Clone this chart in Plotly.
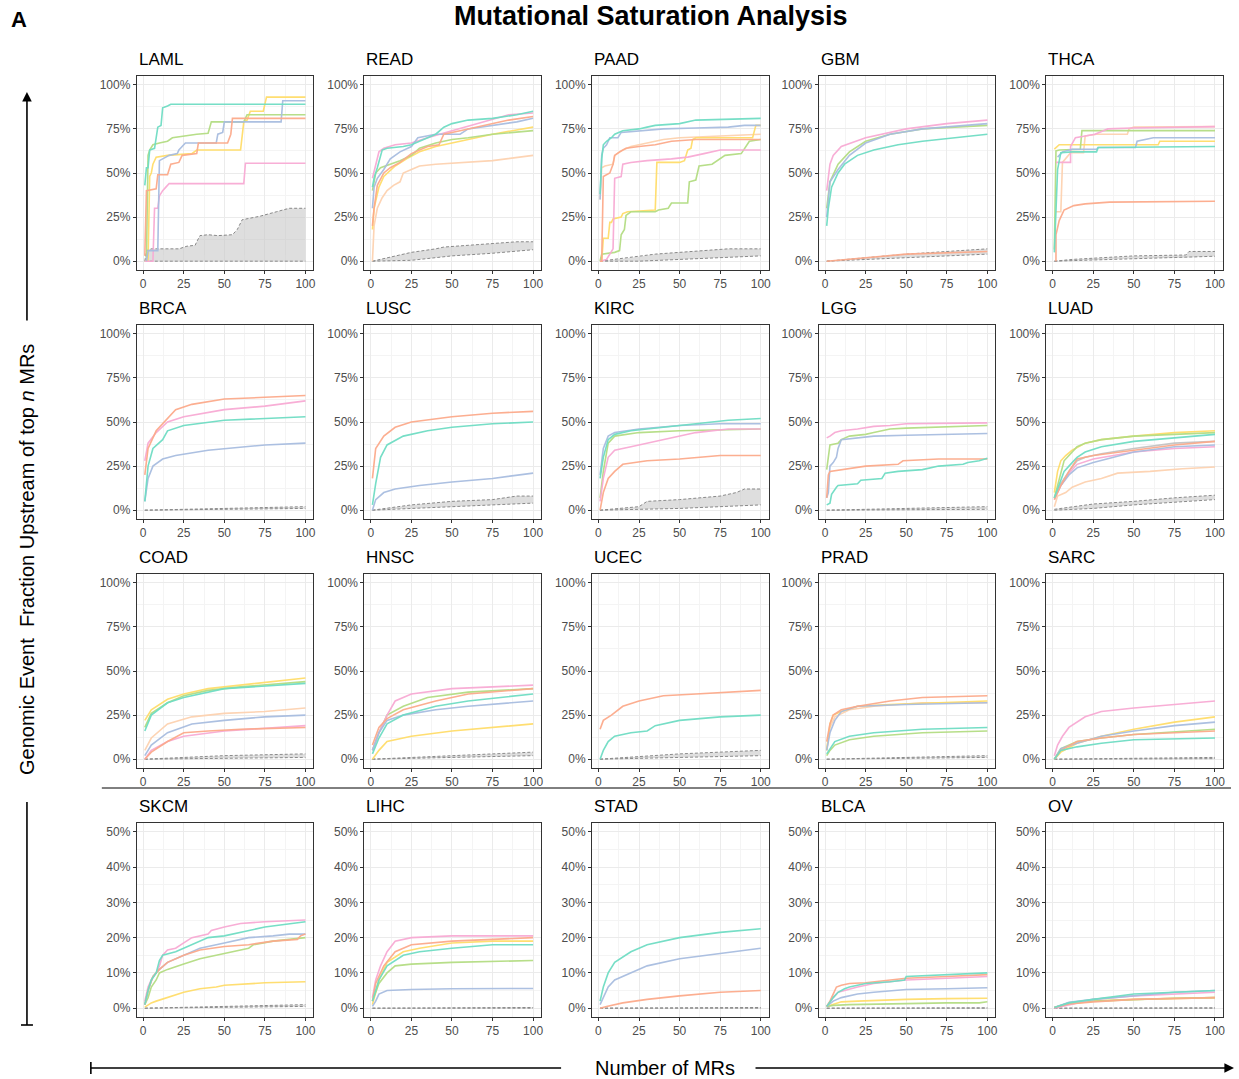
import plotly.graph_objects as go

# ---------------- data ----------------
# groups g1..g8 = eight event classes; "lo"/"hi" = null (random) band
PANELS_ROW1 = ["LAML", "READ", "PAAD", "GBM", "THCA"]
PANELS_ROW2 = ["BRCA", "LUSC", "KIRC", "LGG", "LUAD"]
PANELS_ROW3 = ["COAD", "HNSC", "UCEC", "PRAD", "SARC"]
PANELS_ROW4 = ["SKCM", "LIHC", "STAD", "BLCA", "OV"]

X_TICKS = [0, 25, 50, 75, 100]
Y_TICKS_FULL = [0, 0.25, 0.5, 0.75, 1.0]
Y_TICKS_HALF = [0, 0.1, 0.2, 0.3, 0.4, 0.5]

LAML = {
    "lo": [(1, 0), (100, 0)],
    "hi": [(1, 0), (2, 0.06), (5, 0.07), (22, 0.07), (27, 0.085), (32, 0.09), (33, 0.11), (35, 0.145),
           (40, 0.15), (46, 0.145), (55, 0.15), (58, 0.18), (61, 0.235), (72, 0.255), (82, 0.28),
           (90, 0.30), (100, 0.30)],
    "g1": [(1, 0.43), (2, 0.53), (3, 0.53), (4, 0.63), (7, 0.64), (9, 0.76), (11, 0.77), (12, 0.87),
           (15, 0.88), (17, 0.89), (100, 0.89)],
    "g2": [(1, 0.03), (2, 0.40), (8, 0.41), (9, 0.49), (15, 0.49), (17, 0.55), (22, 0.56), (24, 0.60),
           (33, 0.61), (34, 0.67), (52, 0.67), (53, 0.70), (54, 0.72), (55, 0.81), (100, 0.81)],
    "g3": [(2, 0.0), (3, 0.06), (9, 0.06), (10, 0.57), (12, 0.58), (16, 0.60), (21, 0.61), (22, 0.63),
           (24, 0.65), (26, 0.67), (45, 0.67), (46, 0.72), (49, 0.73), (50, 0.79), (85, 0.79),
           (86, 0.91), (100, 0.91)],
    "g4": [(1, 0.0), (6, 0.0), (7, 0.30), (9, 0.30), (10, 0.37), (12, 0.40), (14, 0.42), (16, 0.44),
           (62, 0.44), (63, 0.555), (100, 0.555)],
    "g5": [(2, 0.02), (3, 0.60), (4, 0.63), (6, 0.66), (10, 0.67), (15, 0.68), (18, 0.70), (25, 0.71),
           (33, 0.72), (40, 0.725), (42, 0.79), (62, 0.79), (64, 0.83), (100, 0.83)],
    "g6": [(1, 0.0), (3, 0.0), (4, 0.48), (5, 0.50), (6, 0.55), (8, 0.59), (15, 0.60), (30, 0.61),
           (33, 0.63), (60, 0.63), (62, 0.79), (64, 0.80), (66, 0.85), (74, 0.85), (76, 0.93),
           (100, 0.93)],
}

READ = {
    "lo": [(1, 0), (25, 0.005), (50, 0.03), (75, 0.045), (100, 0.065)],
    "hi": [(1, 0), (10, 0.02), (25, 0.05), (40, 0.07), (45, 0.08), (60, 0.09), (75, 0.10), (90, 0.11),
           (100, 0.11)],
    "g1": [(1, 0.42), (2, 0.47), (4, 0.53), (6, 0.60), (7, 0.63), (10, 0.64), (20, 0.65), (25, 0.66),
           (30, 0.68), (40, 0.72), (45, 0.76), (50, 0.78), (60, 0.80), (75, 0.81), (90, 0.83), (100, 0.85)],
    "g2": [(1, 0.20), (2, 0.30), (4, 0.43), (8, 0.50), (12, 0.53), (18, 0.56), (25, 0.61), (35, 0.65),
           (42, 0.66), (45, 0.72), (55, 0.74), (70, 0.77), (85, 0.80), (100, 0.82)],
    "g3": [(1, 0.30), (2, 0.42), (4, 0.47), (8, 0.52), (12, 0.58), (18, 0.62), (25, 0.65), (29, 0.70),
           (40, 0.72), (55, 0.72), (60, 0.75), (75, 0.77), (90, 0.79), (100, 0.81)],
    "g4": [(1, 0.47), (3, 0.55), (5, 0.62), (8, 0.64), (15, 0.66), (25, 0.67), (35, 0.70), (50, 0.74),
           (70, 0.79), (85, 0.83), (100, 0.84)],
    "g5": [(1, 0.40), (3, 0.50), (6, 0.53), (12, 0.55), (18, 0.57), (25, 0.60), (30, 0.64), (40, 0.67),
           (50, 0.69), (60, 0.70), (75, 0.72), (100, 0.74)],
    "g6": [(1, 0.18), (2, 0.30), (5, 0.42), (8, 0.48), (15, 0.54), (22, 0.58), (30, 0.62), (40, 0.65),
           (50, 0.67), (60, 0.69), (75, 0.72), (100, 0.76)],
    "g7": [(1, 0.0), (2, 0.20), (4, 0.30), (7, 0.36), (10, 0.40), (14, 0.43), (18, 0.45), (20, 0.50),
           (25, 0.52), (30, 0.54), (40, 0.55), (60, 0.56), (75, 0.57), (100, 0.60)],
}

PAAD = {
    "lo": [(1, 0), (25, 0.0), (50, 0.01), (75, 0.02), (100, 0.03)],
    "hi": [(1, 0), (20, 0.02), (35, 0.04), (50, 0.05), (65, 0.06), (80, 0.07), (100, 0.07)],
    "g1": [(1, 0.38), (2, 0.58), (3, 0.66), (5, 0.68), (8, 0.70), (10, 0.72), (15, 0.74), (25, 0.75),
           (30, 0.76), (35, 0.77), (50, 0.78), (60, 0.80), (100, 0.81)],
    "g2": [(1, 0.0), (2, 0.0), (3, 0.48), (5, 0.49), (7, 0.50), (9, 0.55), (10, 0.60), (13, 0.62),
           (17, 0.64), (25, 0.65), (35, 0.66), (40, 0.67), (45, 0.68), (60, 0.69), (100, 0.69)],
    "g3": [(1, 0.35), (2, 0.60), (3, 0.64), (5, 0.66), (7, 0.70), (12, 0.70), (14, 0.73), (30, 0.74),
           (40, 0.75), (60, 0.755), (80, 0.76), (90, 0.77), (100, 0.77)],
    "g4": [(1, 0.0), (5, 0.01), (9, 0.07), (10, 0.47), (14, 0.48), (15, 0.55), (20, 0.56), (30, 0.57),
           (45, 0.58), (55, 0.59), (65, 0.61), (75, 0.63), (100, 0.63)],
    "g5": [(1, 0.0), (2, 0.04), (10, 0.05), (13, 0.06), (14, 0.15), (16, 0.18), (17, 0.26), (20, 0.28),
           (35, 0.28), (37, 0.29), (43, 0.30), (45, 0.33), (55, 0.33), (56, 0.45), (60, 0.46),
           (62, 0.54), (70, 0.55), (73, 0.57), (78, 0.60), (88, 0.61), (90, 0.64), (93, 0.68), (100, 0.69)],
    "g6": [(1, 0.0), (2, 0.0), (3, 0.13), (6, 0.13), (7, 0.22), (8, 0.22), (9, 0.24), (14, 0.25),
           (15, 0.27), (18, 0.28), (35, 0.29), (36, 0.56), (50, 0.56), (53, 0.57), (55, 0.63),
           (57, 0.64), (58, 0.69), (60, 0.70), (95, 0.70), (97, 0.77), (100, 0.77)],
    "g7": [(1, 0.35), (2, 0.53), (4, 0.54), (9, 0.55), (10, 0.60), (15, 0.63), (20, 0.65), (30, 0.67),
           (40, 0.69), (50, 0.70), (80, 0.71), (100, 0.72)],
}

GBM = {
    "lo": [(1, 0), (50, 0.02), (100, 0.04)],
    "hi": [(1, 0), (50, 0.04), (100, 0.07)],
    "g1": [(1, 0.20), (2, 0.30), (4, 0.42), (8, 0.50), (12, 0.55), (20, 0.60), (30, 0.63), (45, 0.66),
           (60, 0.68), (80, 0.70), (100, 0.72)],
    "g2": [(1, 0.0), (25, 0.02), (50, 0.04), (100, 0.055)],
    "g3": [(1, 0.25), (3, 0.45), (8, 0.52), (15, 0.60), (25, 0.67), (40, 0.72), (60, 0.75), (100, 0.78)],
    "g4": [(1, 0.40), (3, 0.55), (5, 0.60), (10, 0.65), (25, 0.70), (50, 0.75), (75, 0.78), (100, 0.80)],
    "g5": [(1, 0.30), (3, 0.45), (8, 0.55), (15, 0.62), (25, 0.68), (40, 0.72), (60, 0.75), (100, 0.77)],
}

THCA = {
    "lo": [(1, 0), (12, 0.003), (50, 0.015), (80, 0.02), (100, 0.028)],
    "hi": [(1, 0), (12, 0.01), (50, 0.03), (82, 0.035), (84, 0.055), (100, 0.055)],
    "g1": [(1, 0.05), (3, 0.52), (5, 0.615), (12, 0.62), (27, 0.62), (28, 0.645), (100, 0.65)],
    "g2": [(2, 0.0), (2, 0.15), (4, 0.23), (7, 0.29), (13, 0.315), (20, 0.325), (35, 0.335), (100, 0.34)],
    "g3": [(3, 0.59), (6, 0.62), (12, 0.635), (27, 0.635), (28, 0.645), (51, 0.645), (52, 0.68),
           (62, 0.70), (100, 0.70)],
    "g4": [(2, 0.56), (11, 0.56), (11, 0.65), (14, 0.70), (20, 0.71), (26, 0.72), (34, 0.75),
           (49, 0.755), (100, 0.763)],
    "g5": [(1, 0.066), (2, 0.625), (4, 0.63), (17, 0.635), (18, 0.74), (100, 0.74)],
    "g6": [(1, 0.635), (4, 0.66), (65, 0.66), (66, 0.68), (100, 0.68)],
    "g7": [(2, 0.28), (5, 0.28), (6, 0.56), (11, 0.615), (19, 0.615), (20, 0.71), (27, 0.72),
           (46, 0.72), (47, 0.75), (50, 0.76), (100, 0.763)],
}

BRCA = {
    "lo": [(1, 0), (100, 0.01)],
    "hi": [(1, 0), (50, 0.01), (100, 0.02)],
    "g1": [(1, 0.05), (3, 0.25), (6, 0.35), (12, 0.40), (15, 0.45), (25, 0.48), (50, 0.51), (75, 0.52),
           (100, 0.53)],
    "g2": [(1, 0.20), (3, 0.35), (8, 0.45), (15, 0.52), (20, 0.57), (30, 0.60), (50, 0.63), (75, 0.64),
           (100, 0.65)],
    "g3": [(1, 0.05), (3, 0.18), (6, 0.25), (12, 0.29), (20, 0.31), (40, 0.34), (75, 0.37), (100, 0.38)],
    "g4": [(1, 0.28), (3, 0.38), (8, 0.44), (15, 0.50), (25, 0.53), (50, 0.57), (75, 0.59), (100, 0.62)],
}

LUSC = {
    "lo": [(1, 0), (50, 0.02), (100, 0.04)],
    "hi": [(1, 0), (25, 0.03), (50, 0.05), (75, 0.06), (90, 0.08), (100, 0.08)],
    "g1": [(1, 0.03), (3, 0.15), (6, 0.30), (10, 0.37), (20, 0.42), (35, 0.45), (50, 0.47), (75, 0.49),
           (100, 0.50)],
    "g2": [(1, 0.18), (3, 0.35), (8, 0.42), (15, 0.47), (25, 0.50), (50, 0.53), (75, 0.55), (100, 0.56)],
    "g3": [(1, 0.0), (3, 0.06), (8, 0.10), (15, 0.12), (30, 0.14), (50, 0.16), (75, 0.18), (100, 0.21)],
}

KIRC = {
    "lo": [(1, 0), (50, 0.01), (100, 0.03)],
    "hi": [(1, 0), (25, 0.02), (30, 0.05), (50, 0.06), (75, 0.08), (85, 0.10), (90, 0.12), (100, 0.12)],
    "g1": [(1, 0.18), (3, 0.30), (6, 0.40), (10, 0.43), (20, 0.45), (40, 0.47), (60, 0.49), (80, 0.51),
           (100, 0.52)],
    "g2": [(1, 0.0), (3, 0.10), (6, 0.18), (10, 0.22), (15, 0.26), (30, 0.28), (50, 0.29), (75, 0.31),
           (100, 0.31)],
    "g3": [(1, 0.20), (3, 0.35), (6, 0.42), (10, 0.44), (25, 0.46), (50, 0.48), (75, 0.49), (100, 0.49)],
    "g4": [(1, 0.05), (3, 0.18), (6, 0.30), (10, 0.34), (20, 0.36), (40, 0.40), (60, 0.44), (80, 0.46),
           (100, 0.46)],
    "g5": [(1, 0.07), (3, 0.22), (6, 0.38), (10, 0.42), (25, 0.44), (50, 0.45), (100, 0.46)],
}

LGG = {
    "lo": [(1, 0), (100, 0.005)],
    "hi": [(1, 0), (50, 0.01), (100, 0.02)],
    "g1": [(1, 0.03), (3, 0.04), (4, 0.09), (6, 0.12), (7, 0.13), (8, 0.14), (20, 0.15), (22, 0.17),
           (35, 0.18), (37, 0.21), (45, 0.22), (60, 0.23), (70, 0.25), (85, 0.26), (88, 0.27),
           (95, 0.28), (100, 0.295)],
    "g2": [(1, 0.07), (2, 0.20), (3, 0.22), (10, 0.23), (20, 0.24), (25, 0.25), (45, 0.26), (48, 0.28),
           (70, 0.29), (100, 0.29)],
    "g3": [(1, 0.07), (2, 0.10), (3, 0.25), (5, 0.27), (7, 0.30), (8, 0.35), (10, 0.40), (20, 0.41),
           (30, 0.42), (50, 0.425), (100, 0.435)],
    "g4": [(1, 0.41), (3, 0.42), (6, 0.44), (10, 0.45), (20, 0.46), (30, 0.475), (40, 0.48), (50, 0.49),
           (100, 0.495)],
    "g5": [(1, 0.23), (2, 0.32), (3, 0.37), (8, 0.38), (10, 0.40), (15, 0.42), (25, 0.43), (30, 0.44),
           (40, 0.46), (50, 0.465), (100, 0.48)],
}

LUAD = {
    "lo": [(1, 0), (25, 0.01), (50, 0.03), (75, 0.045), (100, 0.06)],
    "hi": [(1, 0.005), (25, 0.035), (50, 0.05), (75, 0.07), (100, 0.085)],
    "g1": [(1, 0.07), (4, 0.14), (7, 0.22), (10, 0.25), (15, 0.30), (20, 0.33), (30, 0.36), (50, 0.39),
           (75, 0.41), (100, 0.43)],
    "g2": [(1, 0.06), (5, 0.14), (10, 0.22), (15, 0.29), (25, 0.31), (50, 0.34), (75, 0.37), (100, 0.39)],
    "g3": [(1, 0.07), (5, 0.14), (10, 0.20), (15, 0.24), (25, 0.27), (50, 0.33), (75, 0.36), (100, 0.37)],
    "g4": [(1, 0.06), (5, 0.14), (10, 0.21), (15, 0.26), (25, 0.29), (50, 0.33), (75, 0.35), (100, 0.36)],
    "g5": [(1, 0.07), (4, 0.18), (7, 0.28), (10, 0.31), (15, 0.36), (20, 0.38), (30, 0.40), (50, 0.42),
           (75, 0.43), (100, 0.44)],
    "g6": [(1, 0.10), (3, 0.22), (5, 0.28), (8, 0.31), (12, 0.34), (20, 0.38), (30, 0.40), (50, 0.42),
           (75, 0.44), (100, 0.45)],
    "g7": [(1, 0.02), (3, 0.08), (8, 0.10), (12, 0.13), (20, 0.16), (30, 0.18), (40, 0.21), (60, 0.22),
           (80, 0.235), (100, 0.245)],
    "g8": [(1, 0.07), (5, 0.15), (10, 0.22), (15, 0.28), (20, 0.30), (30, 0.32), (50, 0.35), (75, 0.38),
           (100, 0.39)],
}

COAD = {
    "lo": [(1, 0), (100, 0.01)],
    "hi": [(1, 0), (50, 0.02), (100, 0.03)],
    "g1": [(1, 0.16), (5, 0.25), (15, 0.32), (25, 0.35), (50, 0.40), (100, 0.43)],
    "g2": [(1, 0.0), (5, 0.04), (15, 0.10), (25, 0.15), (40, 0.16), (60, 0.17), (100, 0.18)],
    "g3": [(1, 0.02), (5, 0.08), (15, 0.15), (30, 0.20), (50, 0.22), (75, 0.24), (100, 0.25)],
    "g4": [(1, 0.0), (5, 0.05), (15, 0.10), (25, 0.13), (50, 0.16), (100, 0.19)],
    "g5": [(1, 0.18), (5, 0.26), (15, 0.32), (25, 0.36), (40, 0.39), (60, 0.41), (100, 0.44)],
    "g6": [(1, 0.22), (5, 0.28), (15, 0.34), (25, 0.37), (40, 0.40), (60, 0.42), (80, 0.44), (100, 0.46)],
    "g7": [(1, 0.05), (5, 0.12), (15, 0.20), (30, 0.24), (50, 0.26), (75, 0.27), (100, 0.29)],
}

HNSC = {
    "lo": [(1, 0), (100, 0.02)],
    "hi": [(1, 0), (50, 0.02), (100, 0.04)],
    "g1": [(1, 0.03), (5, 0.12), (10, 0.20), (20, 0.25), (40, 0.30), (60, 0.33), (80, 0.35), (100, 0.37)],
    "g2": [(1, 0.08), (5, 0.18), (10, 0.23), (20, 0.28), (40, 0.33), (60, 0.37), (100, 0.40)],
    "g3": [(1, 0.05), (5, 0.15), (10, 0.22), (20, 0.25), (40, 0.28), (60, 0.30), (100, 0.33)],
    "g4": [(1, 0.05), (5, 0.15), (10, 0.25), (15, 0.33), (25, 0.37), (50, 0.40), (75, 0.41), (100, 0.42)],
    "g5": [(1, 0.05), (5, 0.15), (10, 0.25), (20, 0.30), (35, 0.35), (60, 0.38), (100, 0.40)],
    "g6": [(1, 0.0), (5, 0.05), (10, 0.10), (25, 0.13), (50, 0.16), (75, 0.18), (100, 0.20)],
}

UCEC = {
    "lo": [(1, 0), (50, 0.01), (100, 0.02)],
    "hi": [(1, 0), (50, 0.03), (75, 0.04), (100, 0.05)],
    "g1": [(1, 0.0), (3, 0.05), (6, 0.10), (10, 0.13), (20, 0.15), (30, 0.16), (35, 0.19), (50, 0.22),
           (75, 0.24), (100, 0.25)],
    "g2": [(1, 0.17), (3, 0.22), (8, 0.25), (15, 0.30), (25, 0.33), (40, 0.36), (60, 0.37), (80, 0.38),
           (100, 0.39)],
}

PRAD = {
    "lo": [(1, 0), (100, 0.01)],
    "hi": [(1, 0), (100, 0.02)],
    "g1": [(1, 0.03), (3, 0.06), (6, 0.10), (15, 0.13), (30, 0.15), (60, 0.17), (100, 0.18)],
    "g2": [(1, 0.10), (3, 0.20), (5, 0.25), (10, 0.28), (20, 0.30), (40, 0.33), (60, 0.35), (100, 0.36)],
    "g3": [(1, 0.05), (3, 0.15), (6, 0.22), (10, 0.27), (20, 0.30), (50, 0.31), (100, 0.32)],
    "g5": [(1, 0.02), (3, 0.05), (6, 0.08), (15, 0.11), (30, 0.13), (60, 0.15), (100, 0.16)],
    "g6": [(1, 0.05), (3, 0.20), (5, 0.25), (10, 0.27), (20, 0.30), (40, 0.31), (100, 0.33)],
    "g7": [(1, 0.05), (3, 0.18), (6, 0.24), (15, 0.28), (30, 0.30), (60, 0.32), (100, 0.32)],
}

SARC = {
    "lo": [(1, 0), (100, 0.003)],
    "hi": [(1, 0), (100, 0.01)],
    "g1": [(1, 0.0), (5, 0.05), (15, 0.07), (30, 0.09), (50, 0.11), (100, 0.12)],
    "g2": [(1, 0.0), (5, 0.05), (15, 0.10), (30, 0.12), (50, 0.14), (100, 0.16)],
    "g3": [(1, 0.0), (5, 0.06), (15, 0.09), (30, 0.13), (50, 0.16), (75, 0.19), (100, 0.21)],
    "g4": [(1, 0.02), (3, 0.08), (6, 0.13), (10, 0.18), (20, 0.24), (30, 0.27), (50, 0.29), (75, 0.31),
           (100, 0.33)],
    "g5": [(1, 0.0), (5, 0.06), (15, 0.10), (30, 0.12), (50, 0.14), (100, 0.17)],
    "g6": [(1, 0.0), (5, 0.04), (15, 0.09), (30, 0.13), (50, 0.17), (75, 0.21), (100, 0.24)],
}

SKCM = {
    "lo": [(1, 0), (100, 0.005)],
    "hi": [(1, 0), (100, 0.01)],
    "g1": [(1, 0.01), (3, 0.05), (5, 0.08), (8, 0.10), (10, 0.135), (12, 0.15), (20, 0.16), (25, 0.17),
           (30, 0.18), (40, 0.20), (50, 0.205), (60, 0.215), (75, 0.23), (100, 0.245)],
    "g2": [(1, 0.01), (3, 0.05), (6, 0.09), (10, 0.11), (15, 0.13), (25, 0.15), (35, 0.165), (50, 0.175),
           (65, 0.18), (80, 0.19), (95, 0.195), (97, 0.205), (100, 0.21)],
    "g3": [(1, 0.01), (3, 0.05), (6, 0.09), (10, 0.11), (15, 0.13), (25, 0.15), (35, 0.17), (50, 0.185),
           (65, 0.20), (80, 0.205), (90, 0.21), (100, 0.21)],
    "g4": [(1, 0.02), (3, 0.06), (5, 0.08), (8, 0.10), (10, 0.12), (12, 0.15), (15, 0.165), (20, 0.17),
           (25, 0.185), (30, 0.20), (40, 0.21), (42, 0.22), (50, 0.23), (60, 0.24), (75, 0.245),
           (100, 0.25)],
    "g5": [(1, 0.01), (3, 0.03), (5, 0.06), (8, 0.08), (10, 0.10), (15, 0.11), (25, 0.125), (35, 0.14),
           (45, 0.15), (55, 0.16), (65, 0.17), (68, 0.18), (80, 0.19), (100, 0.20)],
    "g6": [(1, 0.003), (5, 0.015), (8, 0.02), (15, 0.03), (25, 0.045), (35, 0.055), (45, 0.06),
           (50, 0.065), (75, 0.072), (100, 0.075)],
}

LIHC = {
    "lo": [(1, 0), (100, 0.0)],
    "hi": [(1, 0), (100, 0.002)],
    "g1": [(1, 0.02), (5, 0.08), (10, 0.12), (20, 0.15), (30, 0.16), (50, 0.17), (75, 0.18), (100, 0.18)],
    "g2": [(1, 0.02), (3, 0.07), (8, 0.12), (15, 0.16), (25, 0.18), (50, 0.19), (75, 0.195), (100, 0.20)],
    "g3": [(1, 0.005), (3, 0.02), (5, 0.04), (10, 0.05), (25, 0.053), (50, 0.055), (100, 0.056)],
    "g4": [(1, 0.03), (3, 0.08), (6, 0.12), (10, 0.16), (15, 0.19), (25, 0.20), (50, 0.205), (100, 0.205)],
    "g5": [(1, 0.02), (5, 0.07), (10, 0.10), (15, 0.12), (25, 0.125), (50, 0.13), (100, 0.135)],
    "g6": [(1, 0.01), (5, 0.08), (10, 0.13), (20, 0.16), (30, 0.17), (50, 0.185), (75, 0.19), (100, 0.19)],
}

STAD = {
    "lo": [(1, 0), (100, 0.0)],
    "hi": [(1, 0), (100, 0.002)],
    "g1": [(1, 0.02), (3, 0.06), (6, 0.10), (10, 0.13), (20, 0.16), (30, 0.18), (50, 0.20), (75, 0.215),
           (100, 0.225)],
    "g2": [(1, 0.0), (5, 0.005), (15, 0.015), (30, 0.025), (50, 0.035), (75, 0.045), (100, 0.05)],
    "g3": [(1, 0.01), (3, 0.03), (6, 0.06), (10, 0.08), (20, 0.10), (30, 0.12), (50, 0.14), (75, 0.155),
           (100, 0.17)],
}

BLCA = {
    "lo": [(1, 0), (100, 0.0)],
    "hi": [(1, 0), (100, 0.001)],
    "g1": [(1, 0.005), (5, 0.03), (8, 0.045), (12, 0.055), (15, 0.06), (25, 0.07), (40, 0.075),
           (49, 0.08), (50, 0.09), (75, 0.095), (100, 0.10)],
    "g2": [(1, 0.005), (3, 0.02), (5, 0.04), (7, 0.06), (10, 0.065), (15, 0.07), (25, 0.072), (40, 0.08),
           (50, 0.085), (75, 0.09), (100, 0.095)],
    "g3": [(1, 0.005), (5, 0.02), (10, 0.03), (20, 0.04), (30, 0.045), (45, 0.05), (50, 0.053),
           (75, 0.055), (100, 0.058)],
    "g4": [(1, 0.005), (5, 0.03), (8, 0.045), (12, 0.05), (20, 0.06), (30, 0.07), (40, 0.075), (50, 0.08),
           (75, 0.085), (100, 0.09)],
    "g5": [(1, 0.005), (5, 0.008), (15, 0.01), (30, 0.012), (50, 0.013), (75, 0.015), (95, 0.015),
           (100, 0.018)],
    "g6": [(1, 0.005), (5, 0.01), (10, 0.018), (20, 0.02), (30, 0.022), (50, 0.025), (75, 0.027),
           (100, 0.028)],
}

OV = {
    "lo": [(1, 0), (100, 0.0)],
    "hi": [(1, 0), (100, 0.001)],
    "g1": [(1, 0.002), (10, 0.015), (25, 0.025), (50, 0.04), (75, 0.045), (100, 0.05)],
    "g2": [(1, 0.002), (10, 0.012), (25, 0.018), (50, 0.025), (100, 0.03)],
    "g3": [(1, 0.002), (10, 0.017), (25, 0.025), (50, 0.035), (75, 0.045), (100, 0.05)],
    "g4": [(1, 0.0), (10, 0.01), (25, 0.025), (50, 0.035), (75, 0.04), (100, 0.045)],
    "g5": [(1, 0.002), (10, 0.015), (25, 0.02), (50, 0.025), (75, 0.028), (100, 0.03)],
    "g6": [(1, 0.002), (10, 0.012), (25, 0.02), (50, 0.025), (100, 0.03)],
}

PANEL_DATA = {
    "LAML": LAML, "READ": READ, "PAAD": PAAD, "GBM": GBM, "THCA": THCA,
    "BRCA": BRCA, "LUSC": LUSC, "KIRC": KIRC, "LGG": LGG, "LUAD": LUAD,
    "COAD": COAD, "HNSC": HNSC, "UCEC": UCEC, "PRAD": PRAD, "SARC": SARC,
    "SKCM": SKCM, "LIHC": LIHC, "STAD": STAD, "BLCA": BLCA, "OV": OV,
}

# ---------------- styling ----------------
W, H = 1239, 1079
GROUP_COLORS = {
    "g1": "#6FDDC4", "g2": "#FCAA8B", "g3": "#A8BDE0", "g4": "#F8AAD4",
    "g5": "#B4DD83", "g6": "#FFDD6A", "g7": "#FDD2B0", "g8": "#C4C4C4",
}
FONT = "Liberation Sans, Arial, sans-serif"
COL_LEFT = [137, 365, 593, 820, 1048]
ROW_TOP = [76, 325, 574, 823]
BOX_W, BOX_H = 177, 194


def px(x):
    return x / W


def py(y):
    return 1 - y / H


fig = go.Figure()
layout_axes = {}
annotations = []
rows = [PANELS_ROW1, PANELS_ROW2, PANELS_ROW3, PANELS_ROW4]

for r, row in enumerate(rows):
    for c, name in enumerate(row):
        i = r * 5 + c + 1
        xa = "x" if i == 1 else f"x{i}"
        ya = "y" if i == 1 else f"y{i}"
        d = PANEL_DATA[name]
        # null band
        hx = [p[0] for p in d["hi"]]
        hy = [p[1] for p in d["hi"]]
        lx = [p[0] for p in d["lo"]]
        ly = [p[1] for p in d["lo"]]
        fig.add_trace(go.Scatter(x=hx + lx[::-1], y=hy + ly[::-1], fill="toself", mode="none",
                                 fillcolor="rgba(200,200,200,0.6)", xaxis=xa, yaxis=ya,
                                 showlegend=False, hoverinfo="skip"))
        for bx, by in ((hx, hy), (lx, ly)):
            fig.add_trace(go.Scatter(x=bx, y=by, mode="lines", xaxis=xa, yaxis=ya,
                                     line=dict(color="#8a8a8a", width=1, dash="3px,2px"),
                                     showlegend=False, hoverinfo="skip"))
        for g in ["g8", "g7", "g6", "g5", "g4", "g3", "g2", "g1"]:
            if g in d:
                fig.add_trace(go.Scatter(x=[p[0] for p in d[g]], y=[p[1] for p in d[g]], mode="lines",
                                         xaxis=xa, yaxis=ya, name=f"{name} {g}",
                                         line=dict(color=GROUP_COLORS[g], width=1.6),
                                         opacity=0.95, showlegend=False))
        x0 = COL_LEFT[c]
        y0 = ROW_TOP[r]
        half = r == 3
        yt = Y_TICKS_HALF if half else Y_TICKS_FULL
        yr = [-0.025, 0.525] if half else [-0.05, 1.05]
        key = "" if i == 1 else str(i)
        common = dict(showline=True, mirror=True, linecolor="#333333", linewidth=1,
                      ticks="outside", ticklen=3, tickcolor="#333333", tickwidth=1,
                      showgrid=True, gridcolor="#EBEBEB", gridwidth=1, zeroline=False,
                      tickfont=dict(family=FONT, size=12, color="#4D4D4D"))
        layout_axes["xaxis" + key] = dict(
            domain=[px(x0), px(x0 + BOX_W)], anchor=ya, range=[-3.95, 104.95],
            tickvals=X_TICKS, ticktext=[str(v) for v in X_TICKS],
            minor=dict(dtick=12.5, tick0=0, showgrid=True, gridcolor="#F4F4F4", gridwidth=0.8, ticks=""),
            **common)
        layout_axes["yaxis" + key] = dict(
            domain=[py(y0 + BOX_H), py(y0)], anchor=xa, range=yr,
            tickvals=yt, ticktext=[f"{int(round(v * 100))}%" for v in yt],
            minor=dict(dtick=(0.05 if half else 0.125), tick0=0, showgrid=True, gridcolor="#F4F4F4",
                       gridwidth=0.8, ticks=""),
            **common)
        annotations.append(dict(text=name, x=px(x0), y=py(y0 - 5), xref="paper", yref="paper",
                                xanchor="left", yanchor="bottom", showarrow=False,
                                font=dict(family=FONT, size=17, color="black")))

annotations += [
    dict(text="<b>Mutational Saturation Analysis</b>", x=px(652), y=py(16), xref="paper", yref="paper",
         xanchor="center", yanchor="middle", showarrow=False,
         font=dict(family=FONT, size=27, color="black")),
    dict(text="<b>A</b>", x=px(9), y=py(20), xref="paper", yref="paper",
         xanchor="left", yanchor="middle", showarrow=False,
         font=dict(family=FONT, size=22, color="black")),
    dict(text="Genomic Event  Fraction Upstream of top <i>n</i> MRs", x=px(27), y=py(559),
         xref="paper", yref="paper", xanchor="center", yanchor="middle", textangle=-90,
         showarrow=False, font=dict(family=FONT, size=20, color="black")),
    dict(text="Number of MRs", x=px(666), y=py(1068), xref="paper", yref="paper",
         xanchor="center", yanchor="middle", showarrow=False,
         font=dict(family=FONT, size=20, color="black")),
    # arrows (tail offsets in pixels)
    dict(text="", x=px(27), y=py(92), ax=0, ay=230, xref="paper", yref="paper",
         axref="pixel", ayref="pixel", showarrow=True, arrowhead=2, arrowsize=1.2,
         arrowwidth=1.6, arrowcolor="black"),
    dict(text="", x=px(1236), y=py(1068), ax=-480, ay=0, xref="paper", yref="paper",
         axref="pixel", ayref="pixel", showarrow=True, arrowhead=2, arrowsize=1.2,
         arrowwidth=1.6, arrowcolor="black"),
]

shapes = [
    dict(type="line", xref="paper", yref="paper", x0=px(27), x1=px(27), y0=py(802), y1=py(1025),
         line=dict(color="black", width=1.6)),
    dict(type="line", xref="paper", yref="paper", x0=px(21), x1=px(33), y0=py(1025), y1=py(1025),
         line=dict(color="black", width=1.6)),
    dict(type="line", xref="paper", yref="paper", x0=px(91), x1=px(562), y0=py(1068), y1=py(1068),
         line=dict(color="black", width=1.6)),
    dict(type="line", xref="paper", yref="paper", x0=px(91), x1=px(91), y0=py(1062), y1=py(1074),
         line=dict(color="black", width=1.6)),
    dict(type="line", xref="paper", yref="paper", x0=px(102), x1=px(1233), y0=py(788), y1=py(788),
         line=dict(color="black", width=1)),
]

fig.update_layout(width=W, height=H, margin=dict(l=0, r=0, t=0, b=0),
                  paper_bgcolor="white", plot_bgcolor="white",
                  annotations=annotations, shapes=shapes, showlegend=False,
                  font=dict(family=FONT), **layout_axes)

fig.write_html("out.html")
